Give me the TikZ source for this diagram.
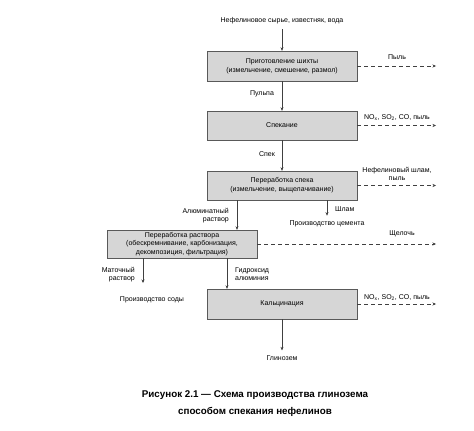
\documentclass[tikz,border=0pt]{standalone}
\usepackage{fontspec}
\setmainfont{Liberation Sans}
\usetikzlibrary{arrows.meta}
\begin{document}
\begin{tikzpicture}[x=1pt,y=-1pt,
  box/.style={draw=black!65, fill=black!16, minimum width=150pt, minimum height=30pt, inner sep=0pt, align=center, font=\fontsize{7}{8.8}\selectfont},
  lbl/.style={inner sep=0pt, align=center, font=\fontsize{7}{8}\selectfont},
  captext/.style={inner sep=0pt, font=\bfseries\fontsize{9.8}{12}\selectfont},
  arr/.style={draw=black!75, -{Stealth[length=3.5pt,width=3pt]}},
  darr/.style={arr, dash pattern=on 4pt off 3pt}]
\useasboundingbox (0,0) rectangle (474,431);
% boxes
\node[box] (b1) at (282,66) {Приготовление шихты\\(измельчение, смешение, размол)};
\node[box, minimum height=29pt] (b2) at (282,125.5) {Спекание};
\node[box, minimum height=29pt] (b3) at (282,185.5) {Переработка спека\\(измельчение, выщелачивание)};
\node[box, minimum height=28pt] (b4) at (182,244) {Переработка раствора\\(обескремнивание, карбонизация,\\декомпозиция, фильтрация)};
\node[box] (b5) at (282,304) {Кальцинация};
% labels
\node[lbl] (top) at (282,21) {Нефелиновое сырье, известняк, вода};
\node[lbl] (l1) at (397,57) {Пыль};
\node[lbl] (pulpa) at (262,94) {Пульпа};
\node[lbl] (l2) at (397,118) {NO\textsubscript{x}, SO\textsubscript{2}, CO, пыль};
\node[lbl] (spek) at (267,154) {Спек};
\node[lbl] (l3) at (397,174) {Нефелиновый шлам,\\пыль};
\node[lbl, align=right, anchor=east] (alum) at (229,215.5) {Алюминатный\\раствор};
\node[lbl, anchor=west] (shlam) at (335,209) {Шлам};
\node[lbl] (cem) at (327,224) {Производство цемента};
\node[lbl] (l4) at (402,234) {Щелочь};
\node[lbl, align=right, anchor=east] (mat) at (135,274.5) {Маточный\\раствор};
\node[lbl, align=left, anchor=west] (hydr) at (235,274) {Гидроксид\\алюминия};
\node[lbl] (soda) at (152,300) {Производство соды};
\node[lbl] (l5) at (397,298) {NO\textsubscript{x}, SO\textsubscript{2}, CO, пыль};
\node[lbl] (glin) at (282,358) {Глинозем};
% caption
\node[captext] (c1) at (255,395) {Рисунок 2.1 — Схема производства глинозема};
\node[captext] (c2) at (255,412) {способом спекания нефелинов};
% coordinates
\coordinate (xa) at (237,0);
\coordinate (xs) at (327,0);
\coordinate (xm) at (143,0);
\coordinate (xh) at (227,0);
\coordinate (me) at (143,283);
\coordinate (e1) at (436,66);
\coordinate (e2) at (436,125.5);
\coordinate (e3) at (436,185.5);
\coordinate (e4) at (436,244);
\coordinate (e5) at (436,304);
% solid arrows
\draw[arr, shorten <=5pt] (top.south) -- (b1.north);
\draw[arr] (b1.south) -- (b2.north);
\draw[arr] (b2.south) -- (b3.north);
\draw[arr] (xa |- b3.south) -- (xa |- b4.north);
\draw[arr, shorten >=5pt] (xs |- b3.south) -- (cem.north);
\draw[arr] (xm |- b4.south) -- (me);
\draw[arr] (xh |- b4.south) -- (xh |- b5.north);
\draw[arr, shorten >=5pt] (b5.south) -- (glin.north);
% dashed arrows
\draw[darr] (b1.east) -- (e1);
\draw[darr] (b2.east) -- (e2);
\draw[darr] (b3.east) -- (e3);
\draw[darr] (b4.east) -- (e4);
\draw[darr] (b5.east) -- (e5);
\end{tikzpicture}
\end{document}
